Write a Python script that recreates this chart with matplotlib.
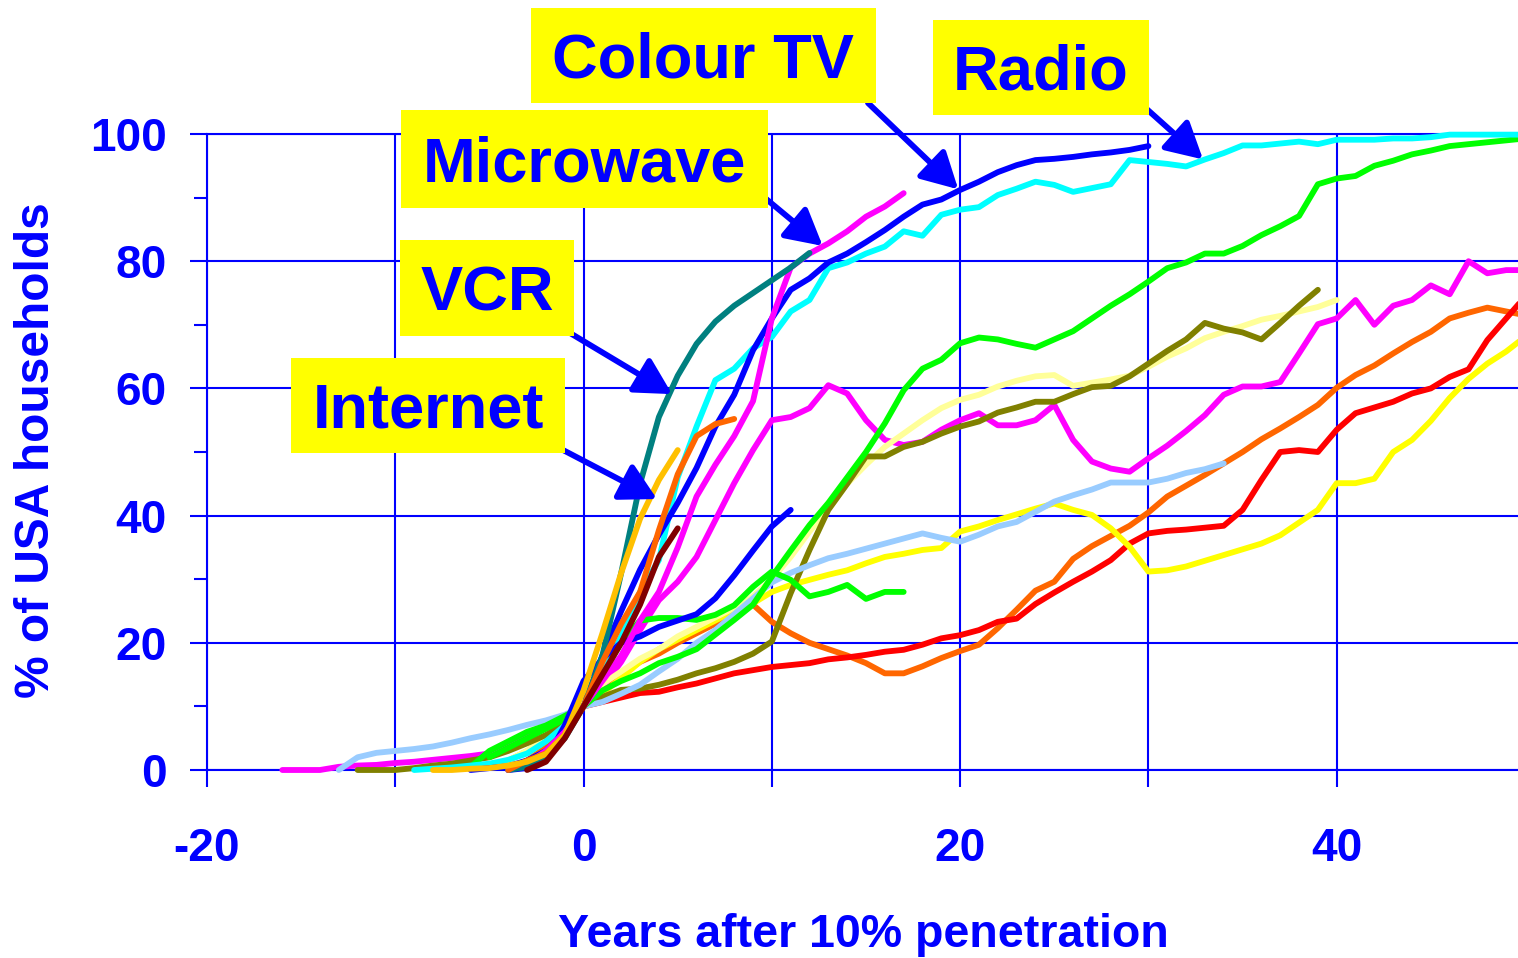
import numpy as np
import matplotlib
matplotlib.use("Agg")
import matplotlib.pyplot as plt
from matplotlib.patches import Rectangle

plt.rcParams['font.family'] = ['Liberation Sans', 'DejaVu Sans']
plt.rcParams['font.weight'] = 'bold'
plt.rcParams['axes.unicode_minus'] = False

BLUE = '#0000FF'
W, H = 1518, 958

# ---------------- data: (start year, yearly % of households) ----------------
red_start = 0
red_vals = [10, 10.7, 11.4, 12.1, 12.3, 13, 13.6, 14.4, 15.2, 15.7, 16.2, 16.5, 16.8, 17.4, 17.7,
            18.1, 18.6, 18.9, 19.7, 20.7, 21.2, 22.0, 23.3, 23.8, 26.1, 27.9, 29.6, 31.2, 33.0,
            35.6, 37.2, 37.6, 37.8, 38.1, 38.4, 40.9, 45.6, 50.0, 50.3, 50.0, 53.5, 56.1, 57.0,
            57.9, 59.2, 60.0, 61.8, 63.0, 67.6, 71.0, 74.4]

yellow_start = -6
yellow_vals = [0.3, 0.8, 1.5, 3, 5, 7.5, 10, 12, 14.5, 17, 19, 20.5, 22, 23.5, 25, 26.2, 28, 29.1,
               29.9, 30.7, 31.4, 32.5, 33.5, 34, 34.6, 34.9, 37.5, 38.3, 39.3, 40.2, 41.1, 41.9,
               40.9, 40.1, 38.0, 35.1, 31.2, 31.4, 32.0, 32.9, 33.8, 34.7, 35.6, 36.9, 38.9, 40.9,
               45.1, 45.1, 45.8, 50.0, 51.9, 54.9, 58.5, 61.5, 63.9, 65.8, 68.1]

orange_long_start = -4
orange_long_vals = [0, 1.5, 3.5, 6.5, 10, 13, 15, 17, 18.3, 20, 21.5, 23, 25, 26, 23.3, 21.5, 20,
                    19, 18, 16.8, 15.2, 15.2, 16.3, 17.6, 18.7, 19.7, 22.3, 25.2, 28.2, 29.6, 33.2,
                    35.2, 36.8, 38.4, 40.5, 43, 44.7, 46.4, 48.2, 50, 52, 53.7, 55.5, 57.4, 60.1,
                    62.1, 63.6, 65.5, 67.3, 68.9, 71, 71.9, 72.7, 72.1, 71.5]

magenta_long_start = -16
magenta_long_vals = [0, 0, 0, 0.5, 0.7, 0.8, 1.1, 1.3, 1.6, 1.9, 2.2, 2.6, 4, 5.5, 7, 8.5,
                     10, 13, 17, 22, 26.7, 29.6, 33.5, 39.3, 45.1, 50.3, 55, 55.5, 56.9, 60.5,
                     59.2, 55, 51.9, 51.1, 51.6, 53.5, 55, 56.1, 54.2, 54.2, 55, 57.4, 51.9, 48.5,
                     47.4, 46.9, 49, 51, 53.3, 55.8, 59, 60.3, 60.3, 61, 65.5, 70.1, 71, 73.9, 70,
                     73, 73.9, 76.2, 74.8, 80, 78.1, 78.6, 78.6]

olive_start = -12
olive_vals = [0, 0, 0, 0.3, 0.7, 1.0, 1.5, 2.0, 3.0, 4.2, 5.5, 7.3,
              10, 11.5, 12.6, 12.8, 13.4, 14.2, 15.2, 16.0, 17.0, 18.3, 20.2, 27.8, 34.6, 40.9,
              45, 49.3, 49.3, 50.8, 51.6, 52.9, 54.0, 54.8, 56.2, 57, 57.9, 57.9, 59.1, 60.2,
              60.4, 61.9, 63.9, 65.9, 67.7, 70.3, 69.4, 68.8, 67.7, 70.3, 73.0, 75.5]

lightyellow_start = -5
lightyellow_vals = [0.5, 1.5, 3, 5, 7, 10, 13.5, 15.5, 17.5, 19, 21, 22.5, 24, 25.5, 27.3, 30,
                    33.5, 37.5, 41, 45, 48, 50.8, 52.9, 55, 56.9, 58.2, 59, 60.3, 61.2, 61.9,
                    62.1, 60.4, 60.9, 61.4, 62.0, 63.4, 65, 66.3, 67.9, 68.9, 69.8, 70.8, 71.4,
                    72.1, 72.8, 73.9]

lightblue_start = -13
lightblue_vals = [0, 2, 2.7, 3.0, 3.3, 3.7, 4.3, 5.0, 5.6, 6.3, 7.1, 7.8, 8.7,
                  10, 10.7, 12, 13.4, 15.5, 17.5, 20, 22, 24.5, 27, 29.5, 31, 32.2, 33.3, 34,
                  34.8, 35.6, 36.4, 37.2, 36.5, 35.9, 37, 38.3, 39, 40.6, 42.2, 43.2, 44.1, 45.2,
                  45.2, 45.2, 45.8, 46.7, 47.3, 48.2]

green_long_start = -6
green_long_vals = [0.5, 3, 4.5, 6, 7, 8.5, 10, 12.5, 14, 15.2, 16.8, 17.8, 19, 21.3, 23.6, 26,
                   30.4, 34.5, 38.5, 42, 46, 50, 54.5, 59.7, 63.1, 64.5, 67.1, 68, 67.7, 67,
                   66.4, 67.7, 69, 71, 73, 74.8, 76.8, 78.9, 79.8, 81.2, 81.2, 82.4, 84.1, 85.5,
                   87.1, 92.1, 93.0, 93.4, 95.0, 95.8, 96.8, 97.4, 98.1, 98.4, 98.7, 99.0, 99.3]

green_short_start = -5
green_short_vals = [2, 3.5, 5, 6.5, 8, 10, 15, 20, 23.5, 23.9, 23.9, 23.6, 24.4, 25.9, 28.8, 31.2,
                    29.9, 27.3, 28.0, 29.1, 26.9, 28.0, 28.0]

radio_start = -9
radio_vals = [0, 0.2, 0.4, 0.7, 1.0, 1.6, 2.6, 4.5, 7, 10, 15, 21, 28, 33, 46, 54, 61.3, 63.1,
              66.3, 68.1, 72.1, 73.9, 78.9, 79.8, 81.2, 82.3, 84.7, 84.0, 87.3, 88.1, 88.5, 90.4,
              91.4, 92.5, 92.0, 90.9, 91.5, 92.1, 95.9, 95.6, 95.3, 94.9, 96.0, 97.0, 98.2, 98.2,
              98.5, 98.8, 98.4, 99.1, 99.1, 99.1, 99.3, 99.3, 99.5, 99.9, 99.9, 99.9, 99.9, 99.9]

colour_tv_start = -6
colour_tv_vals = [0, 0.3, 0.6, 1.5, 3, 6, 10, 18, 25, 31.5, 37, 42, 47.5, 54, 59, 66, 71, 75.5,
                  77.3, 79.8, 81.2, 83, 84.9, 87, 88.9, 89.7, 91.2, 92.5, 94, 95.1, 95.9, 96.1,
                  96.4, 96.8, 97.1, 97.5, 98.1]

blue_short_start = -4
blue_short_vals = [0, 0.3, 1.5, 7, 14, 17.5, 20, 21, 22.5, 23.5, 24.5, 27, 30.6, 34.5, 38.3, 40.9]

microwave_start = -4
microwave_vals = [0, 1, 3, 6, 10, 14, 18, 23.5, 28, 35, 43, 48, 52.5, 58, 71, 79, 81.2, 82.8,
                  84.7, 87, 88.6, 90.7]

vcr_start = -4
vcr_vals = [0, 0.5, 2, 5, 10, 18, 31, 45, 55.5, 62, 67, 70.5, 73, 75, 77, 79, 81.3]

orange_short_start = -4
orange_short_vals = [0, 1.5, 2.6, 5.5, 10, 17, 23, 28, 37.7, 46.5, 52.5, 54.4, 55.2]

internet_start = -8
internet_vals = [0, 0, 0.2, 0.3, 0.7, 1.3, 2.5, 5.5, 12.5, 21.5, 31, 39.5, 45.6, 50.3]

maroon_start = -3
maroon_vals = [0, 1.3, 5, 10, 15, 20, 26, 33.5, 38]

series = [
    (orange_long_start, orange_long_vals, '#FF6600'),
    (red_start, red_vals, '#FF0000'),
    (yellow_start, yellow_vals, '#FFFF00'),
    (magenta_long_start, magenta_long_vals, '#FF00FF'),
    (lightyellow_start, lightyellow_vals, '#FFFF99'),
    (olive_start, olive_vals, '#808000'),
    (lightblue_start, lightblue_vals, '#99CCFF'),
    (green_long_start, green_long_vals, '#00FF00'),
    (green_short_start, green_short_vals, '#00FF00'),
    (radio_start, radio_vals, '#00FFFF'),
    (colour_tv_start, colour_tv_vals, '#0000FF'),
    (blue_short_start, blue_short_vals, '#0000FF'),
    (microwave_start, microwave_vals, '#FF00FF'),
    (vcr_start, vcr_vals, '#008080'),
    (orange_short_start, orange_short_vals, '#FF6600'),
    (internet_start, internet_vals, '#FFC000'),
    (maroon_start, maroon_vals, '#800000'),
]

# label boxes: text, box (x0, y0, x1, y1) in pixels from top-left, arrow tail px, arrow tip data
labels = [
    ('Colour TV', (531, 8, 876, 103), (868, 103), (19.9, 91.3)),
    ('Radio', (933, 20, 1149, 115), (1140, 103), (32.9, 96.0)),
    ('Microwave', (401, 110, 768, 208), (765, 198), (12.7, 82.4)),
    ('VCR', (400, 240, 574, 336), (570, 333), (4.7, 59.1)),
    ('Internet', (291, 358, 565, 453), (563, 450), (3.9, 42.6)),
]

# ---------------- figure ----------------
fig = plt.figure(figsize=(W / 100, H / 100), dpi=100)
ax = fig.add_axes([207 / W, 188 / H, (1525 - 207) / W, 636 / H])
ax.set_xlim(-20, 50)
ax.set_ylim(0, 100)

for start, vals, col in series:
    x = np.arange(start, start + len(vals))
    ax.plot(x, vals, color=col, lw=4.2, solid_joinstyle='round',
            solid_capstyle='round', clip_on=False, zorder=3)

ax.set_xticks([-20, 0, 20, 40])
ax.set_xticks([-10, 10, 30], minor=True)
ax.set_yticks([0, 20, 40, 60, 80, 100])
ax.set_yticks([10, 30, 50, 70, 90], minor=True)
ax.tick_params(axis='x', which='both', direction='out', length=12, width=1.5,
               color=BLUE, labelcolor=BLUE, labelsize=33, pad=29)
ax.tick_params(axis='y', which='major', direction='out', length=12.2, width=1.5,
               color=BLUE, labelcolor=BLUE, labelsize=33, pad=17)
ax.tick_params(axis='y', which='minor', direction='out', length=9.4, width=1.5, color=BLUE)
for lab in ax.get_xticklabels() + ax.get_yticklabels():
    lab.set_fontweight('bold')

ax.grid(True, which='both', axis='x', color=BLUE, lw=1.5, zorder=1)
ax.grid(True, which='major', axis='y', color=BLUE, lw=1.5, zorder=1)
ax.set_axisbelow(True)
for s in ['left', 'bottom', 'top']:
    ax.spines[s].set_color(BLUE)
    ax.spines[s].set_linewidth(1.5)
ax.spines['right'].set_visible(False)

fig.text(37 / W, 1 - 450 / H, '% of USA households', rotation=90, ha='center', va='center',
         fontsize=34.5, fontweight='bold', color=BLUE)
fig.text(863 / W, 1 - 947 / H, 'Years after 10% penetration', ha='center', va='baseline',
         fontsize=33.5, fontweight='bold', color=BLUE)

for text, (x0, y0, x1, y1), tail, tip in labels:
    fig.add_artist(Rectangle((x0 / W, 1 - y1 / H), (x1 - x0) / W, (y1 - y0) / H,
                             transform=fig.transFigure, facecolor='#FFFF00',
                             edgecolor='none', zorder=5))
    cy = (y0 + y1) / 2 + 22.5
    fig.text((x0 + x1) / 2 / W, 1 - cy / H, text, ha='center', va='baseline',
             fontsize=45.5, fontweight='bold', color=BLUE, zorder=6)
    ax.annotate('', xy=tip, xycoords='data', xytext=(tail[0], H - tail[1]),
                textcoords='figure pixels', annotation_clip=False,
                arrowprops=dict(arrowstyle='-|>,head_length=0.55,head_width=0.3',
                                color=BLUE, lw=4.2, mutation_scale=40,
                                shrinkA=0, shrinkB=0), zorder=7)

fig.savefig('out.png', dpi=100)
